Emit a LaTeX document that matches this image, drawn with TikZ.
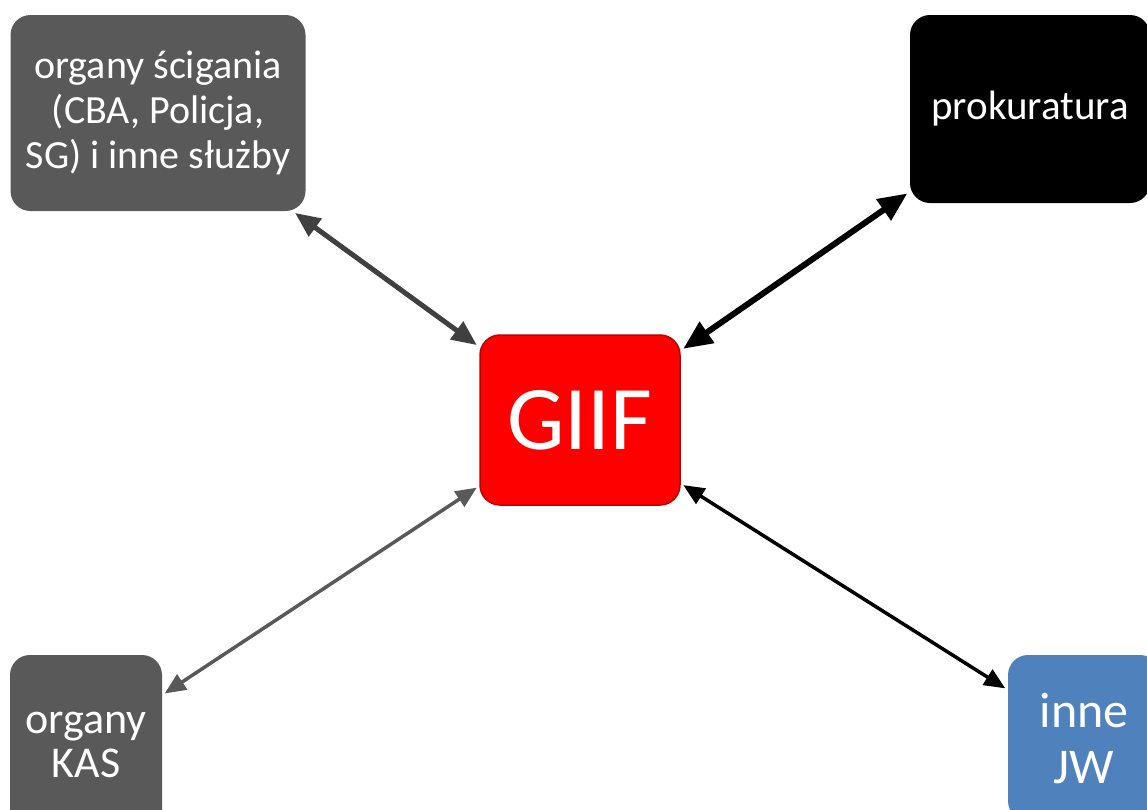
\documentclass[tikz,border=0pt]{standalone}
\usepackage{fontspec}
\setmainfont{Carlito}
\usepackage{tikz}
\usetikzlibrary{arrows.meta,positioning}

\definecolor{boxgray}{HTML}{595959}
\definecolor{arrowgray}{HTML}{404040}
\definecolor{jwblue}{HTML}{4F81BD}
\definecolor{giifred}{HTML}{FF0000}
\definecolor{giifedge}{HTML}{C00000}

\begin{document}
\begin{tikzpicture}[x=1pt,y=-1pt,
    box/.style={rectangle,rounded corners=20pt,text=white,align=center,inner sep=0pt},
    link/.style 2 args={{Triangle[length=#2,width=#2*0.85]}-{Triangle[length=#2,width=#2*0.85]},line width=#1,
                        shorten >=3pt,shorten <=3pt}]
    \useasboundingbox (0,0) rectangle (1147,809);
    \clip (0,0) rectangle (1147,809);

    \node[box,fill=giifred,draw=giifedge,line width=1.5pt,minimum width=200pt,minimum height=170pt,
          font=\fontsize{91}{96}\selectfont]                                   (giif)    at (580,420)  {GIIF};
    \node[box,fill=boxgray,minimum width=295pt,minimum height=196pt,
          font=\fontsize{40}{45}\selectfont]                                   (sluzby)  at (158,113)  {organy ścigania\\(CBA, Policja,\\SG) i inne służby};
    \node[box,fill=black,minimum width=240pt,minimum height=188pt,
          font=\fontsize{41}{46}\selectfont]                                   (prok)    at (1030,109) {prokuratura};
    \node[box,fill=boxgray,minimum width=152pt,minimum height=180pt,
          font=\fontsize{44}{44}\selectfont]                                   (kas)     at (86,745)   {organy\\KAS};
    \node[box,fill=jwblue,minimum width=152pt,minimum height=166pt,
          font=\fontsize{50}{56}\selectfont]                                   (jw)      at (1084,738) {inne\\JW};

    \draw[link={5pt}{25pt},arrowgray] (giif) -- (sluzby);
    \draw[link={6pt}{29pt},black]     (giif) -- (prok);
    \draw[link={3.5pt}{21pt},boxgray] (giif) -- (kas);
    \draw[link={3.5pt}{21pt},black]   (giif) -- (jw);
\end{tikzpicture}
\end{document}
